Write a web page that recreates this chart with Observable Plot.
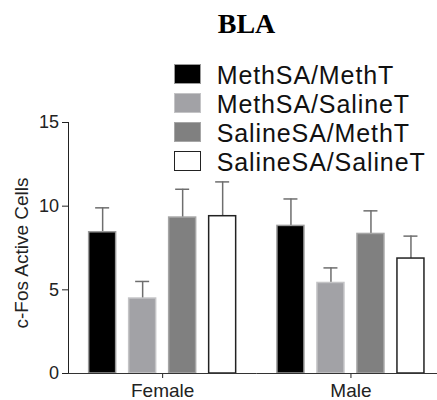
<!DOCTYPE html>
<html>
<head>
<meta charset="utf-8">
<script src="https://cdn.jsdelivr.net/npm/d3@7"></script>
<script src="https://cdn.jsdelivr.net/npm/@observablehq/plot@0.6"></script>
<style>
  body { margin: 0; background: #fff; }
  #wrap { position: relative; width: 437px; height: 400px; overflow: hidden; font-family: 'Liberation Sans', Arial, sans-serif; }
  #title { position: absolute; top: 9.5px; left: 246.5px; transform: translateX(-50%); font-family: 'Liberation Serif', 'Times New Roman', serif; font-weight: bold; font-size: 28px; line-height: 28px; color: #000; white-space: nowrap; }
  #ylabel { position: absolute; left: 21px; top: 252.5px; transform: translate(-50%, -50%) rotate(-90deg); font-size: 19px; line-height: 19px; white-space: nowrap; color: #222; }
  #legend { position: absolute; left: 174px; top: 61.3px; }
  .row { display: flex; align-items: flex-start; height: 28.8px; line-height: 28.8px; font-size: 25px; letter-spacing: 0.9px; color: #111; white-space: nowrap; }
  .sw { box-sizing: border-box; width: 27px; height: 20px; margin-top: 3px; margin-right: 15.7px; border: 1.5px solid #999; }
  #chart svg text { font-size: 19px !important; font-family: 'Liberation Sans', Arial, sans-serif !important; fill: #222; }
  #chart svg g[aria-label^="y-axis"] text { font-size: 18px !important; }
</style>
</head>
<body>
<div id="wrap">
  <div id="chart"></div>
  <div id="title">BLA</div>
  <div id="ylabel">c-Fos Active Cells</div>
  <div id="legend"></div>
</div>
<script>
// ---- data ----
const groups = ["Female", "Male"];
const series = ["MethSA/MethT", "MethSA/SalineT", "SalineSA/MethT", "SalineSA/SalineT"];
const femaleMean = [8.44, 4.48, 9.32, 9.40];
const femaleSEM  = [1.46, 1.02, 1.69, 2.05];
const maleMean   = [8.82, 5.41, 8.34, 6.87];
const maleSEM    = [1.61, 0.90, 1.38, 1.34];
const yTicks = [0, 5, 10, 15];

// ---- styles ----
const fills   = ["#000000", "#a2a2a6", "#808080", "#ffffff"];
const strokes = ["#9a9a9a", "#c4c4c6", "#a6a6a6", "#222222"];
const errColor = "#6e6e6e";

const means = [femaleMean, maleMean];
const sems = [femaleSEM, maleSEM];
const rows = groups.flatMap((g, gi) => series.map((s, si) => ({
  group: g, series: s, si, mean: means[gi][si], sem: sems[gi][si]
})));

const chart = Plot.plot({
  width: 437,
  height: 400,
  marginLeft: 68,
  marginRight: 0,
  marginTop: 122,
  marginBottom: 27,
  style: { fontFamily: "'Liberation Sans', Arial, sans-serif", fontSize: "18px", color: "#222", background: "transparent", overflow: "visible" },
  facet: { data: rows, x: "group" },
  fx: { domain: groups, range: [68, 444.6], padding: 0, round: false, axis: "bottom", label: null, tickSize: 5, tickPadding: 5 },
  x: { domain: series, axis: null, paddingInner: 0.325, paddingOuter: 0.516, align: 0.5, round: false },
  y: { domain: [0, 15], ticks: yTicks, tickSize: 6, tickPadding: 3.5, label: null, line: true },
  color: { type: "identity" },
  marks: [
    Plot.ruleX(rows, { x: "series", y1: "mean", y2: d => d.mean + d.sem, stroke: errColor, strokeWidth: 1.5 }),
    Plot.tickY(rows, { x: "series", y: d => d.mean + d.sem, stroke: errColor, strokeWidth: 1.5, insetLeft: 6.5, insetRight: 6.5 }),
    Plot.barY(rows, { x: "series", y: "mean", fill: d => fills[d.si], stroke: d => strokes[d.si], strokeWidth: 1.5 }),
    Plot.ruleY([0], { stroke: "#333", strokeWidth: 1.2 })
  ]
});
document.getElementById("chart").appendChild(chart);

// legend
const legend = document.getElementById("legend");
series.forEach((s, i) => {
  const row = document.createElement("div");
  row.className = "row";
  const sw = document.createElement("div");
  sw.className = "sw";
  sw.style.background = fills[i];
  sw.style.borderColor = strokes[i];
  const t = document.createElement("span");
  t.textContent = s;
  row.appendChild(sw);
  row.appendChild(t);
  legend.appendChild(row);
});
</script>
</body>
</html>
